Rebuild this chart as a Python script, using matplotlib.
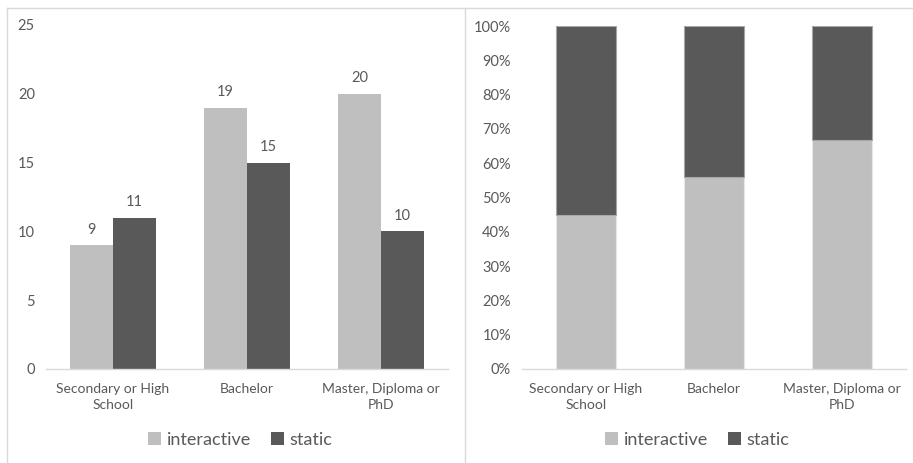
import matplotlib
matplotlib.use("Agg")
import matplotlib.pyplot as plt
from matplotlib.lines import Line2D
from matplotlib.patches import Patch
import numpy as np

categories = ["Secondary or High\nSchool", "Bachelor", "Master, Diploma or\nPhD"]
interactive = [9, 19, 20]
static = [11, 15, 10]
count_ticks = [0, 5, 10, 15, 20, 25]
pct_ticks = [0, 10, 20, 30, 40, 50, 60, 70, 80, 90, 100]

C_INT = "#BFBFBF"
C_STA = "#595959"
TXT = "#595959"
AXLINE = "#D9D9D9"

plt.rcParams["font.family"] = ["Lato", "DejaVu Sans"]

W, H = 913, 463
fig = plt.figure(figsize=(W / 100, H / 100), dpi=100)

def fx(px):
    return px / W

def fy(py):
    return 1 - py / H

x = np.arange(len(categories))

# --- left chart: counts, clustered ---
axL = fig.add_axes([fx(46), fy(369), fx(448) - fx(46), fy(25) - fy(369)])
bw = 43 / 134
axL.bar(x - bw / 2, interactive, bw, color=C_INT)
axL.bar(x + bw / 2, static, bw, color=C_STA)
for xi, v in zip(x - bw / 2, interactive):
    axL.annotate(str(v), (xi, v), xytext=(0, 6), textcoords="offset points",
                 ha="center", va="bottom", color=TXT, fontsize=10.5)
for xi, v in zip(x + bw / 2, static):
    axL.annotate(str(v), (xi, v), xytext=(0, 6), textcoords="offset points",
                 ha="center", va="bottom", color=TXT, fontsize=10.5)
axL.set_xlim(-0.5, 2.5)
axL.set_ylim(0, 25)
axL.set_yticks(count_ticks)

# --- right chart: shares, 100% stacked ---
totals = np.array(interactive) + np.array(static)
int_pct = np.array(interactive) / totals * 100
sta_pct = np.array(static) / totals * 100

axR = fig.add_axes([fx(522), fy(369), fx(906) - fx(522), fy(26) - fy(369)])
bw2 = 60 / 128
axR.bar(x, int_pct, bw2, color=C_INT, edgecolor="#E6E6E6", linewidth=0.8)
axR.bar(x, sta_pct, bw2, bottom=int_pct, color=C_STA, edgecolor="#A6A6A6", linewidth=0.8)
axR.set_xlim(-0.5, 2.5)
axR.set_ylim(0, 100)
axR.set_yticks(pct_ticks)
axR.set_yticklabels([f"{t}%" for t in pct_ticks])

for ax in (axL, axR):
    ax.set_xticks(x)
    ax.set_xticklabels(categories, linespacing=1.4)
    for s in ("top", "right", "left"):
        ax.spines[s].set_visible(False)
    ax.spines["bottom"].set_color(AXLINE)
    ax.spines["bottom"].set_linewidth(1)
    ax.tick_params(axis="y", length=0, colors=TXT, labelsize=10.5, pad=8)
    ax.tick_params(axis="x", length=0, colors=TXT, labelsize=10, pad=10)
    ax.set_facecolor("none")

handles = [Patch(facecolor=C_INT, edgecolor="none", label="interactive"),
           Patch(facecolor=C_STA, edgecolor="none", label="static")]
for cx in (240, 697):
    fig.legend(handles=handles, loc="center", bbox_to_anchor=(fx(cx), fy(440)),
               ncol=2, frameon=False, fontsize=13, handlelength=0.75, handleheight=0.75,
               handletextpad=0.3, columnspacing=1.1, labelcolor=TXT)

# chart frames
frame = dict(color=AXLINE, linewidth=1, transform=fig.transFigure)
fig.add_artist(Line2D([fx(7), 1], [fy(8), fy(8)], **frame))
fig.add_artist(Line2D([fx(7), fx(7)], [fy(8), 0], **frame))
fig.add_artist(Line2D([fx(465), fx(465)], [fy(8), 0], **frame))

fig.savefig("out.png", dpi=100, facecolor="white")
